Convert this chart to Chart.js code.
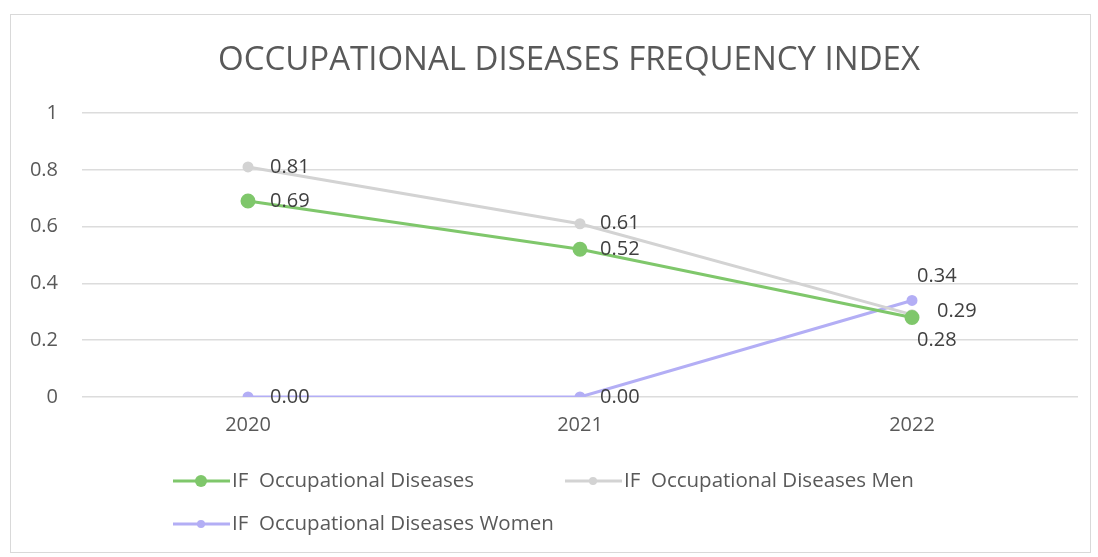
<!DOCTYPE html>
<html>
<head>
<meta charset="utf-8">
<script src="https://cdn.jsdelivr.net/npm/chart.js@4/dist/chart.umd.min.js"></script>
<style>
  html, body { margin: 0; padding: 0; background: #fff; }
  #wrap { width: 1098px; height: 557px; }
</style>
</head>
<body>
<div id="wrap"><canvas id="chart" width="1098" height="557"></canvas></div>
<script>
var chartTitle = 'OCCUPATIONAL DISEASES FREQUENCY INDEX';
var years = ['2020', '2021', '2022'];
var ifAll = [0.69, 0.52, 0.28];
var ifMen = [0.81, 0.61, 0.29];
var ifWomen = [0.00, 0.00, 0.34];
var seriesNames = ['IF  Occupational Diseases', 'IF  Occupational Diseases Men', 'IF  Occupational Diseases Women'];

var textGrey = '#595959';
var labelFont = '20px "Open Sans", sans-serif';
var legendFont = '20.5px "Open Sans", sans-serif';

// label offsets per dataset / point (x, y from point)
var labelOffsets = [
  [[22, 0], [20, 0], [5, 23]],
  [[22, 0], [20, 0], [25, -3]],
  [[22, 0], [20, 0], [5, -24]]
];

var frame = {
  id: 'frame',
  beforeDraw: function(chart) {
    var ctx = chart.ctx;
    ctx.save();
    ctx.fillStyle = '#fff';
    ctx.fillRect(0, 0, chart.width, chart.height);
    ctx.strokeStyle = '#d9d9d9';
    ctx.lineWidth = 1;
    ctx.strokeRect(10.5, 14.5, 1080, 538);
    // title
    ctx.font = '33px "Open Sans", sans-serif';
    ctx.fillStyle = textGrey;
    ctx.textAlign = 'center';
    ctx.textBaseline = 'middle';
    ctx.fillText(chartTitle, 569, 61);
    ctx.restore();
  }
};

var valueLabels = {
  id: 'valueLabels',
  afterDatasetsDraw: function(chart) {
    var ctx = chart.ctx;
    ctx.save();
    ctx.font = labelFont;
    ctx.fillStyle = '#404040';
    ctx.textBaseline = 'middle';
    chart.data.datasets.forEach(function(ds, i) {
      var meta = chart.getDatasetMeta(i);
      meta.data.forEach(function(pt, j) {
        var off = labelOffsets[i][j];
        ctx.textAlign = 'left';
        ctx.fillText(ds.data[j].toFixed(2), pt.x + off[0], pt.y + off[1]);
      });
    });
    ctx.restore();
  }
};

var legendBox = {
  id: 'legendBox',
  afterDraw: function(chart) {
    var ctx = chart.ctx;
    var spots = [[173, 481], [565, 481], [173, 524]];
    ctx.save();
    ctx.font = legendFont;
    ctx.textBaseline = 'middle';
    ctx.textAlign = 'left';
    chart.data.datasets.forEach(function(ds, i) {
      var x = spots[i][0], y = spots[i][1];
      ctx.strokeStyle = ds.borderColor;
      ctx.lineWidth = ds.borderWidth;
      ctx.beginPath();
      ctx.moveTo(x, y);
      ctx.lineTo(x + 57, y);
      ctx.stroke();
      ctx.fillStyle = ds.pointBackgroundColor;
      ctx.beginPath();
      ctx.arc(x + 28, y, ds.pointRadius, 0, Math.PI * 2);
      ctx.fill();
      ctx.fillStyle = textGrey;
      ctx.fillText(ds.label, x + 59, y);
    });
    ctx.restore();
  }
};

new Chart(document.getElementById('chart'), {
  type: 'line',
  data: {
    labels: years,
    datasets: [{
      label: seriesNames[0],
      data: ifAll,
      borderColor: '#7fc76b',
      backgroundColor: '#7fc76b',
      pointBackgroundColor: '#7fc76b',
      pointBorderColor: '#7fc76b',
      borderWidth: 3,
      pointRadius: 6,
      tension: 0
    }, {
      label: seriesNames[1],
      data: ifMen,
      borderColor: '#d3d3d3',
      backgroundColor: '#d3d3d3',
      pointBackgroundColor: '#d3d3d3',
      pointBorderColor: '#d3d3d3',
      borderWidth: 3,
      pointRadius: 4,
      tension: 0
    }, {
      label: seriesNames[2],
      data: ifWomen,
      borderColor: '#b3aef5',
      backgroundColor: '#b3aef5',
      pointBackgroundColor: '#b3aef5',
      pointBorderColor: '#b3aef5',
      borderWidth: 3,
      pointRadius: 4,
      tension: 0
    }]
  },
  options: {
    responsive: false,
    animation: false,
    layout: { padding: { left: 0, right: 20, top: 113, bottom: 0 } },
    plugins: {
      legend: { display: false },
      tooltip: { enabled: false },
      title: { display: false }
    },
    scales: {
      x: {
        offset: true,
        grid: { display: false, drawTicks: false },
        border: { display: false },
        ticks: { color: textGrey, font: { family: '"Open Sans", sans-serif', size: 20 }, padding: 16 },
        afterFit: function(scale) { scale.height = 160; }
      },
      y: {
        min: 0,
        max: 1,
        ticks: {
          stepSize: 0.2,
          color: textGrey,
          font: { family: '"Open Sans", sans-serif', size: 20 },
          padding: 24,
          callback: function(v) { return Math.round(v * 10) / 10; }
        },
        grid: { color: '#dcdcdc', drawTicks: false, lineWidth: 1.5 },
        border: { display: false },
        afterFit: function(scale) { scale.width = 82; }
      }
    }
  },
  plugins: [frame, valueLabels, legendBox]
});
</script>
</body>
</html>
